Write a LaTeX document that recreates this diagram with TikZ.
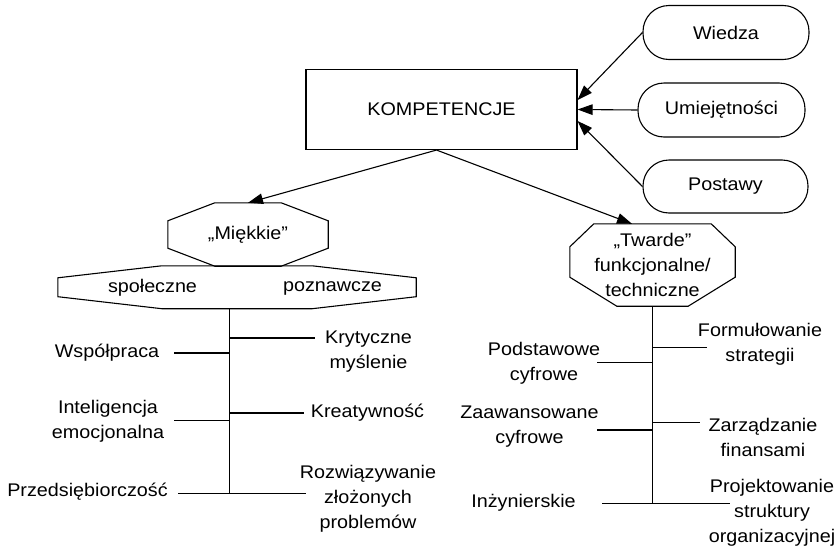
\documentclass[tikz,border=0pt]{standalone}
\usepackage{fontspec}
\setmainfont{Liberation Sans}[FakeStretch=1.08]
\usetikzlibrary{calc,arrows.meta}
\newcommand\octg[5]{\draw[ln] ($(#1.north west)+(#2,0)$) -- ($(#1.north east)+(-#2,0)$) -- ($(#1.north east)+(0,-#3)$) -- ($(#1.south east)+(0,#5)$) -- ($(#1.south east)+(-#4,0)$) -- ($(#1.south west)+(#4,0)$) -- ($(#1.south west)+(0,#5)$) -- ($(#1.north west)+(0,-#3)$) -- cycle;}
\begin{document}
\begin{tikzpicture}[x=1pt,y=1pt,
  every node/.style={font=\fontsize{18.3}{25}\selectfont, inner sep=0pt, align=center},
  ln/.style={line width=1.1pt, draw=black},
  arr/.style={ln, -{Triangle[length=15pt,width=10.5pt]}},
  capsule/.style={ln, rounded corners=26pt, minimum width=166pt, minimum height=54pt},
  mainbox/.style={ln, minimum width=271pt, minimum height=80pt},
  octbox/.style={draw=none}]
\useasboundingbox (0,0) rectangle (837,-549);
% top part
\node[mainbox] (K) at (441.5,-109.5) {KOMPETENCJE};
\node[capsule] (wie) at (726,-32.5) {Wiedza};
\node[capsule, minimum width=167pt] (umi) at (721.5,-110) {Umiejętności};
\node[capsule, minimum width=165pt, minimum height=53pt] (pos) at (725.5,-186.5) {Postawy};
\coordinate (kw) at ($(K.east)+(0,9.5)$);
\coordinate (kp) at ($(K.east)+(0,-11.5)$);
\draw[arr] (wie.west) -- (kw);
\draw[arr] (umi.west) -- (K.east);
\draw[arr] (pos.west) -- (kp);
% octagons
\node[octbox, minimum width=160pt, minimum height=63pt] (M) at (248,-234.5) {„Miękkie”};
\node[octbox, minimum width=358pt, minimum height=42.5pt] (W) at (237,-287.25) {};
\node[octbox, minimum width=165pt, minimum height=82pt] (T) at (652.5,-265) {„Twarde”\\funkcjonalne/\\techniczne};
\octg{M}{47}{18}{47}{18}
\octg{W}{104}{12}{104}{12}
\octg{T}{24}{23}{47}{29}
\node (spo) at (152.5,-288) {społeczne};
\node (poz) at (332.5,-288) {poznawcze};
\coordinate (ks) at ($(K.south)+(-5,0)$);
\coordinate (tt) at ($(T.north)+(-20.5,0)$);
\draw[arr] (ks) -- (M.north);
\draw[arr] (ks) -- (tt);
% left tree
\coordinate (lb) at (229.5,-493.5);
\draw[ln] (W.south -| lb) -- (lb);
\coordinate (l1) at (315,-338);
\coordinate (l2) at (174,-353);
\coordinate (l3) at (304,-413);
\coordinate (l4) at (174,-420.5);
\coordinate (l5) at (178,-493.5);
\coordinate (l6) at (306,-493.5);
\draw[ln] (l1 -| lb) -- (l1);
\draw[ln] (l2) -- (l2 -| lb);
\draw[ln] (l3 -| lb) -- (l3);
\draw[ln] (l4) -- (l4 -| lb);
\draw[ln] (l5) -- (lb) -- (l6);
\node (kry) at (368.5,-351.5) {Krytyczne\\myślenie};
\node (wsp) at (107,-353) {Współpraca};
\node (int) at (108,-421.5) {Inteligencja\\emocjonalna};
\node (kre) at (367.5,-413) {Kreatywność};
\node (prz) at (87.5,-492) {Przedsiębiorczość};
\node (roz) at (368,-499) {Rozwiązywanie\\złożonych\\problemów};
% right tree
\coordinate (rb) at (652.5,-503.5);
\draw[ln] (T.south) -- (rb);
\coordinate (r1) at (707,-347.5);
\coordinate (r2) at (597,-362.5);
\coordinate (r3) at (700,-422.5);
\coordinate (r4) at (597,-430);
\coordinate (r5) at (602,-503.5);
\coordinate (r6) at (730,-503.5);
\draw[ln] (r1 -| rb) -- (r1);
\draw[ln] (r2) -- (r2 -| rb);
\draw[ln] (r3 -| rb) -- (r3);
\draw[ln] (r4) -- (r4 -| rb);
\draw[ln] (r5) -- (rb) -- (r6);
\node (for) at (760,-344.5) {Formułowanie\\strategii};
\node (pod) at (544,-363.5) {Podstawowe\\cyfrowe};
\node (zar) at (763,-437) {Zarządzanie\\finansami};
\node (zaa) at (529.5,-426.5) {Zaawansowane\\cyfrowe};
\node (inz) at (523.5,-503) {Inżynierskie};
\node (pro) at (772,-513) {Projektowanie\\struktury\\organizacyjnej};
\end{tikzpicture}
\end{document}
